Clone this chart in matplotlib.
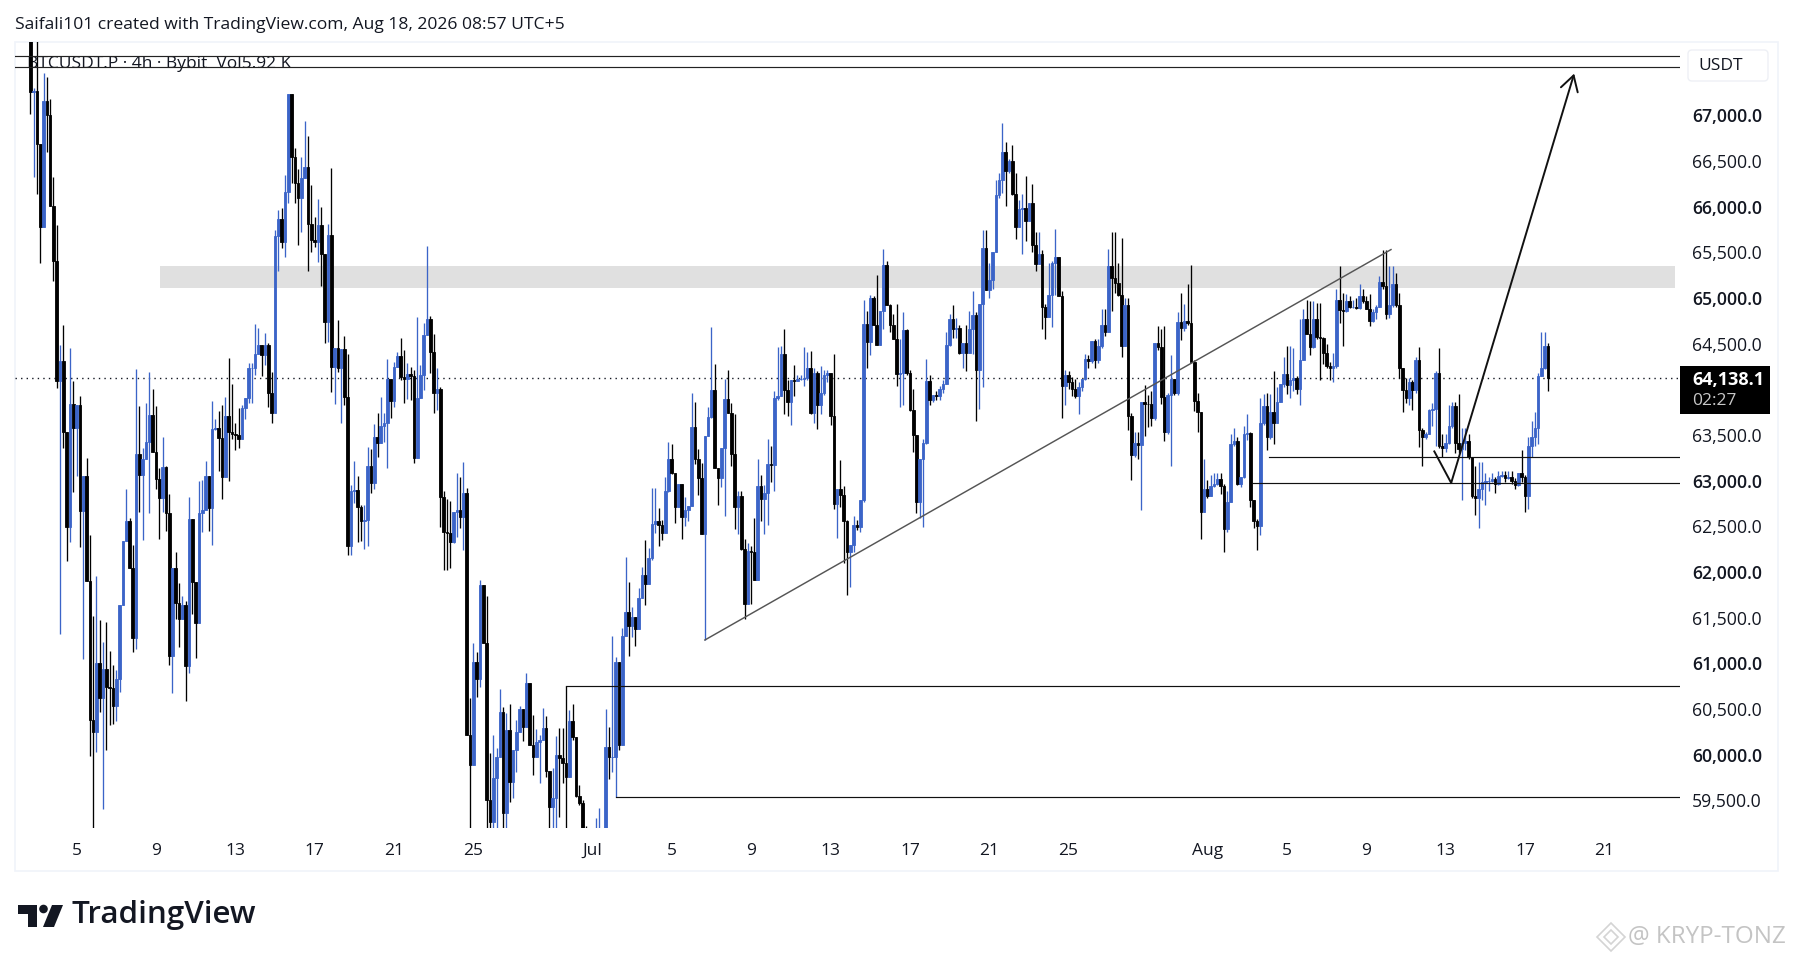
import numpy as np
import matplotlib
matplotlib.use("Agg")
import matplotlib.pyplot as plt
from matplotlib.patches import Rectangle, FancyBboxPatch, Polygon, Circle

plt.rcParams['font.family'] = ['Open Sans', 'DejaVu Sans']

# 4h candles, first bar is around Jun 1
closes = [
    67252, 67270, 66693, 65777, 67157, 67006, 66012, 65408, 64096, 64308, 63537, 62492, 63844, 63582, 63833, 62671,
    63051, 61906, 60381, 60247, 61001, 60621, 60945, 60744, 60733, 60532, 60834, 61643, 62341, 62565, 62046, 61274,
    63291, 63068, 63235, 63425, 63721, 63313, 63023, 62816, 63146, 62643, 61079, 62046, 61666, 61487, 61638, 60967,
    62587, 61895, 61448, 62649, 62677, 63051, 62699, 63565, 63582, 63470, 63040, 63705, 63537, 63515, 63498, 63459,
    63794, 63903, 64231, 64240, 64388, 64487, 64377, 64487, 63965, 63746, 65680, 65863, 65611, 66166, 67235, 66549,
    66257, 66093, 66312, 66432, 65808, 65636, 65618, 65801, 65483, 64742, 65691, 64242, 64450, 64239, 64439, 63914,
    62289, 62892, 62899, 62709, 62563, 62570, 63162, 62972, 63476, 63410, 63600, 63629, 64111, 63877, 64242, 64366,
    64133, 64111, 64169, 64147, 63253, 63903, 64158, 64596, 64768, 64414, 63957, 64001, 62826, 62443, 62432, 62326,
    62662, 62680, 62600, 62862, 60217, 59888, 61020, 60826, 61859, 61220, 59505, 59268, 59742, 59972, 60465, 59359,
    60271, 59706, 60052, 60246, 60498, 60308, 60783, 60107, 59972, 60144, 60162, 60290, 59826, 59425, 59523, 59998,
    59961, 59906, 59760, 60374, 60198, 59549, 59468, 59150, 59100, 59000, 58950, 59020, 59040, 59060, 60089, 59972,
    59975, 61020, 60107, 61301, 61560, 61414, 61505, 61374, 61713, 61969, 61866, 62151, 62527, 62564, 62516, 62425,
    62892, 63235, 63082, 62710, 62965, 62600, 62680, 62724, 63586, 63235, 63027, 62418, 63494, 63697, 63994, 63142,
    63032, 63357, 63892, 63748, 63298, 62711, 62829, 62250, 61656, 62234, 62223, 61918, 62946, 62798, 62868, 63181,
    63173, 63904, 63932, 64385, 63990, 63865, 64100, 64098, 64110, 64120, 64125, 64237, 63748, 64178, 63826, 63963,
    64159, 64178, 63709, 62751, 62907, 62848, 62555, 62223, 62301, 62516, 62489, 62790, 64714, 64518, 65000, 64706,
    64491, 64862, 65363, 64921, 64706, 64557, 64166, 64178, 64647, 64178, 63775, 63505, 62770, 63239, 63415, 64088,
    63885, 63944, 63932, 64002, 64061, 64491, 64776, 64659, 64675, 64401, 64511, 64401, 64667, 64812, 64217, 64941,
    65547, 65086, 65195, 65508, 66134, 66290, 66603, 66388, 66497, 66145, 65782, 65977, 65985, 65848, 66044, 65586,
    65371, 65488, 64902, 64792, 65038, 65390, 65449, 65019, 64033, 64159, 64080, 64010, 63932, 64022, 64119, 64335,
    64307, 64530, 64323, 64472, 64706, 64628, 65351, 65222, 65167, 65039, 64479, 64921, 63709, 63279, 63415, 63396,
    63865, 63846, 63845, 63689, 64511, 64464, 63916, 63533, 63943, 64120, 63963, 64737, 64675, 64745, 64726, 64296,
    63877, 63751, 62656, 62910, 62832, 62938, 62969, 63016, 62938, 62468, 62766, 63407, 63438, 62969, 63047, 63517,
    63524, 62793, 62558, 62500, 63634, 63822, 63478, 63751, 63634, 63861, 64064, 64174, 64045, 64103, 64123, 64006,
    64318, 64776, 64604, 64463, 64768, 64573, 64565, 64396, 64260, 64240, 64260, 64983, 64866, 64858, 64964, 64905,
    64905, 64897, 65022, 64964, 64885, 64749, 64846, 64905, 65179, 65128, 64827, 64925, 65151, 64925, 64240, 63994,
    63908, 64084, 63994, 64318, 63556, 63478, 63517, 63771, 63783, 64181, 63380, 63360, 63419, 63595, 63822, 63419,
    63352, 63419, 63438, 63262, 62832, 62813, 62910, 62989, 62996, 63000, 63016, 62961, 63055, 63067, 63027, 63047,
    63000, 62950, 63086, 63047, 62832, 63380, 63478, 63575, 64150, 64240, 64475, 64125,
]
highs = [
    68300, 67300, 67950, 66693, 67464, 67425, 67185, 66330, 65805, 64487, 64710, 63537, 64459, 64095, 63833, 63928,
    63051, 63246, 62409, 61515, 61962, 61476, 61235, 61459, 61140, 60984, 60928, 61643, 62341, 62911, 62593, 62297,
    64224, 63822, 63357, 63850, 64196, 64001, 63822, 63135, 63481, 63163, 62855, 62046, 62224, 61878, 61738, 61683,
    62827, 62587, 61895, 62995, 63012, 63219, 63051, 63872, 63682, 63760, 63833, 63917, 64347, 64056, 63637, 63794,
    63833, 63903, 64286, 64286, 64717, 64669, 64487, 64615, 64505, 64195, 65746, 65965, 65983, 66348, 67235, 67235,
    66640, 66410, 66542, 66943, 66779, 66239, 65892, 66082, 65994, 65483, 65812, 66421, 64450, 64760, 64439, 64589,
    64388, 62954, 63220, 63052, 62735, 62735, 63366, 63344, 63622, 63738, 63914, 63746, 64330, 64111, 64304, 64414,
    64560, 64432, 64293, 64250, 64213, 64797, 64268, 64724, 65571, 64804, 64607, 64231, 64030, 62892, 62797, 62782,
    62662, 63081, 63045, 63209, 62918, 60618, 61220, 61129, 61914, 61859, 61739, 60023, 60217, 60071, 60717, 60527,
    60454, 60556, 60052, 60381, 60534, 60498, 60899, 60783, 60436, 60279, 60217, 60509, 60425, 59826, 59852, 60206,
    60290, 60290, 60753, 60490, 60556, 60198, 59669, 59505, 59220, 59150, 59050, 59304, 59414, 59100, 60498, 60301,
    61301, 61074, 61020, 61385, 62170, 61896, 61622, 61505, 61823, 62060, 62352, 62261, 62918, 62918, 62699, 62570,
    63038, 63429, 63403, 63082, 62965, 62965, 62826, 62724, 63963, 63865, 63345, 63200, 63494, 63807, 64687, 64276,
    63142, 63357, 64119, 64217, 63853, 63728, 62887, 62887, 62359, 62320, 62290, 62594, 63239, 63063, 62950, 63454,
    63376, 63980, 64470, 64479, 64659, 64100, 64100, 64268, 64159, 64159, 64464, 64413, 64425, 64237, 64198, 64256,
    64217, 64217, 64178, 64393, 62907, 63228, 62946, 62575, 62301, 62614, 62575, 62790, 64980, 64863, 65038, 65019,
    65254, 64862, 65535, 65410, 64941, 64831, 64941, 64550, 64843, 64667, 64217, 64002, 63505, 63239, 63455, 64335,
    64159, 63944, 63983, 64041, 64100, 64628, 64823, 64921, 64784, 64706, 64511, 64706, 64863, 65078, 64843, 64941,
    65742, 65742, 65390, 65508, 66290, 66368, 66916, 66708, 66525, 66681, 66368, 66075, 66145, 66341, 66044, 66251,
    65723, 65723, 65527, 64941, 65390, 65410, 65754, 65449, 65078, 64217, 64205, 64139, 64119, 64080, 64119, 64393,
    64374, 64530, 64550, 64550, 64882, 64882, 65535, 65723, 65723, 65390, 65664, 65000, 65000, 63748, 63533, 63533,
    63865, 64049, 63943, 63982, 64511, 64698, 64667, 64698, 63963, 64374, 64120, 64843, 65058, 64933, 65156, 65363,
    64323, 63966, 63751, 63243, 63008, 63067, 63086, 63086, 63086, 62970, 62890, 63517, 63575, 63478, 63047, 63595,
    63732, 63536, 62793, 62578, 63908, 63947, 63966, 63947, 64201, 64025, 64064, 64357, 64475, 64475, 64455, 64143,
    64776, 64885, 64983, 64964, 64964, 64944, 64944, 64573, 64494, 64299, 64397, 65100, 65347, 65061, 65042, 65022,
    64983, 65003, 65151, 65100, 65022, 65042, 64885, 64925, 65245, 65531, 65531, 65355, 65355, 65276, 65061, 64240,
    64123, 64123, 64104, 64357, 64463, 63575, 63536, 63783, 63849, 64201, 64455, 63517, 63517, 63830, 63868, 63868,
    63947, 63575, 63575, 63517, 63262, 63165, 63204, 63204, 63086, 63047, 63086, 63047, 63106, 63106, 63106, 63106,
    63106, 63027, 63086, 63340, 63067, 63478, 63653, 63751, 64181, 64631, 64631, 64514,
]
lows = [
    67017, 66330, 66140, 65380, 65777, 66598, 66012, 65190, 64018, 61319, 63358, 62118, 62325, 62883, 63050, 62280,
    61051, 61906, 59990, 59100, 60035, 60470, 59409, 60051, 60331, 60342, 60370, 60688, 61643, 62400, 62046, 61124,
    61163, 62660, 62353, 63235, 62649, 63313, 62911, 62364, 62660, 62448, 60984, 60677, 61487, 61180, 61630, 60593,
    60900, 61543, 61057, 61448, 62440, 62677, 62448, 62297, 63555, 63107, 62800, 63040, 62995, 63459, 63341, 63358,
    63459, 63673, 63850, 63855, 64158, 64388, 64147, 64268, 63811, 63629, 63746, 65300, 65545, 65447, 66045, 66257,
    66038, 65582, 65728, 66312, 65297, 65509, 65560, 65399, 65133, 64505, 64523, 63976, 63841, 64195, 63629, 63830,
    62187, 62187, 62753, 62326, 62344, 62249, 62286, 62862, 62906, 63264, 63410, 63420, 63136, 63684, 63811, 64242,
    64100, 63848, 63892, 63884, 63191, 63253, 63903, 63994, 64596, 64176, 63746, 63775, 62498, 62023, 62023, 62041,
    62320, 62388, 62479, 62242, 60217, 59100, 59888, 60629, 60739, 61220, 59100, 59100, 59100, 59100, 59972, 59100,
    59100, 59487, 59523, 59815, 60246, 60155, 60308, 60107, 59779, 59972, 59687, 60162, 59760, 59100, 59100, 59100,
    59322, 59687, 59100, 59760, 60160, 59540, 59450, 59000, 58950, 58900, 58850, 58900, 58900, 58950, 59060, 59735,
    59815, 59535, 60052, 60107, 61300, 61082, 61286, 61191, 61374, 61713, 61640, 61866, 62133, 62425, 62286, 62352,
    62425, 62881, 63075, 62542, 62710, 62359, 62505, 62564, 62724, 63180, 62845, 62418, 61257, 63494, 63690, 63142,
    62731, 62927, 62614, 63748, 63161, 62477, 62418, 62240, 61491, 61656, 61648, 61910, 61918, 62555, 62420, 62516,
    62990, 62887, 63885, 63932, 63728, 63709, 63611, 63924, 64090, 64100, 64040, 64100, 63728, 63630, 63572, 63728,
    63943, 64080, 63611, 62692, 62379, 62712, 62105, 61753, 61832, 62223, 62458, 62438, 62770, 64237, 64374, 64706,
    64491, 64667, 64667, 64921, 64628, 64557, 64041, 63807, 63826, 64159, 63767, 63318, 62653, 62594, 62496, 63405,
    63826, 63865, 63885, 63885, 63963, 64061, 64472, 64569, 64569, 64393, 64237, 64205, 64401, 64393, 63658, 63787,
    64022, 65086, 65000, 65097, 65508, 66094, 66153, 66005, 66368, 66134, 65645, 65782, 65488, 65625, 65840, 65508,
    65293, 65371, 64667, 64557, 64792, 64687, 65038, 65019, 63689, 63826, 64002, 63924, 63904, 63728, 63982, 64100,
    64237, 64295, 64237, 64295, 64452, 64589, 64726, 64863, 65058, 65019, 64354, 64472, 63552, 63005, 63260, 63240,
    62680, 63494, 63591, 63603, 63670, 64432, 63846, 63435, 63513, 63161, 63943, 63943, 64542, 64636, 64706, 64296,
    63767, 63536, 62363, 62656, 62813, 62832, 62930, 62950, 62852, 62226, 62440, 62766, 63380, 62950, 62930, 63027,
    63450, 62715, 62480, 62246, 62402, 63614, 63340, 63458, 63399, 63634, 63861, 64025, 63947, 63908, 63986, 63947,
    63829, 64318, 64604, 64377, 64455, 64553, 64103, 64279, 64240, 64103, 64083, 64240, 64729, 64475, 64846, 64893,
    64893, 64885, 64885, 64944, 64878, 64690, 64737, 64768, 64905, 65100, 64776, 64788, 64905, 64905, 64123, 63751,
    63850, 63830, 63771, 63966, 63368, 63165, 63458, 63517, 63595, 63380, 63360, 63262, 63321, 63400, 63575, 63301,
    63301, 62793, 63340, 63243, 62813, 62625, 62488, 62793, 62734, 62891, 62989, 62871, 62950, 63040, 62989, 63020,
    62961, 62910, 62938, 62989, 62656, 62695, 63262, 63380, 63399, 64150, 64228, 63986,
]
first_open = 68100

# bar number of each time label
time_ticks = [14, 38, 62, 86, 110, 134, 170, 194, 218, 242, 266, 290, 314, 356, 380, 404, 428, 452, 476]
time_labels = ['5', '9', '13', '17', '21', '25', 'Jul', '5', '9', '13', '17', '21', '25', 'Aug', '5', '9', '13', '17', '21']
# 64,000 sits behind the price tag in the reference
price_ticks = [59500, 60000, 60500, 61000, 61500, 62000, 62500, 63000, 63500, 64500, 65000, 65500, 66000, 66500, 67000]

last_price = 64125
zone = [65112, 65355]
top_lines = [67651, 67526]
trend_x = [204, 411.5]
trend_y = [61257, 65532]
level_x = [162, 177, 374.6, 369.5]
level_y = [60753, 59535, 63256, 62977]
arrow_x = [424.6, 429.7, 466.9]
arrow_y = [63322, 62977, 67459]

up_color = '#3b64c8'
down_color = '#000000'
text_color = '#131722'

W, H = 1793, 961
fig = plt.figure(figsize=(W / 100, H / 100), dpi=100, facecolor='white')

# full figure layer in pixels, for the frame, logo and the boxes
bg = fig.add_axes([0, 0, 1, 1])
bg.set_xlim(0, W)
bg.set_ylim(H, 0)
bg.axis('off')
bg.add_patch(Rectangle((15, 42), 1763, 829, fill=False, ec='#f0f3fa', lw=1.2))

left, right, top, bottom = 15, 1680, 42, 828
ax = fig.add_axes([left / W, 1 - bottom / H, (right - left) / W, (bottom - top) / H])
ax.patch.set_alpha(0)
for s in ax.spines.values():
    s.set_visible(False)

x = np.arange(len(closes))
closes = np.array(closes, dtype=float)
opens = np.concatenate([[first_open], closes[:-1]])
highs = np.maximum(np.array(highs, dtype=float), np.maximum(opens, closes))
lows = np.minimum(np.array(lows, dtype=float), np.minimum(opens, closes))
colors = np.where(closes >= opens, up_color, down_color)

ax.axhspan(zone[0], zone[1], xmin=(160 - left) / (right - left), xmax=(1675 - left) / (right - left),
           color='#e0e0e0', lw=0, zorder=1)
ax.text(-1, 67560, 'BTCUSDT.P · 4h · Bybit  Vol5.92 K', fontsize=12.5, color=text_color, va='center', zorder=2)
ax.axhline(last_price, color='#131722', lw=1, ls=(0, (1, 3)), zorder=2)

ax.vlines(x, lows, highs, colors=colors, lw=0.95, zorder=3)
ax.bar(x, np.abs(closes - opens), bottom=np.minimum(opens, closes), width=0.8, color=colors,
       edgecolor=colors, lw=0.6, zorder=4)

# drawings on top of the candles
for p in top_lines:
    ax.axhline(p, color='#222222', lw=0.85, zorder=5)
ax.plot(trend_x, trend_y, color='#555555', lw=1.05, zorder=5)
for px, py in zip(level_x, level_y):
    ax.plot([px, 498.9], [py, py], color='#111111', lw=0.85, zorder=5)
ax.plot(arrow_x[:2], arrow_y[:2], color='#111111', lw=1.4, zorder=5)
ax.annotate('', xy=(arrow_x[2], arrow_y[2]), xytext=(arrow_x[1], arrow_y[1]), zorder=5,
            arrowprops=dict(arrowstyle='->,head_length=0.6,head_width=0.35', color='#111111', lw=1.4,
                            shrinkA=0, shrinkB=0, mutation_scale=18))

ax.set_xlim(-4.63, 498.9)
ax.set_ylim(67000 - (bottom - 115.5) / 0.09133, 67000 + (115.5 - top) / 0.09133)

ax.set_xticks(time_ticks)
ax.set_xticklabels(time_labels, fontsize=12.5, color=text_color)
ax.tick_params(axis='x', length=0, pad=11)

ax.yaxis.tick_right()
ax.set_yticks(price_ticks)
ax.set_yticklabels([f'{p:,.1f}' for p in price_ticks], fontsize=12.7, color=text_color)
ax.tick_params(axis='y', length=0, pad=8.5)
for p, lab in zip(price_ticks, ax.get_yticklabels()):
    if p % 1000 == 0:
        lab.set_fontweight('semibold')

bg.text(15, 25, 'Saifali101 created with TradingView.com, Aug 18, 2026 08:57 UTC+5',
        fontsize=12.6, color=text_color, va='center')

bg.add_patch(FancyBboxPatch((1688, 50), 80, 31, boxstyle='round,pad=0,rounding_size=4', fc='white', ec='#eef0f5', lw=1))
bg.text(1698, 66, 'USDT', fontsize=12.5, color=text_color, va='center')

bg.add_patch(Rectangle((1680, 366), 90, 48, fc='black', ec='none', zorder=6))
bg.text(1692, 380, '64,138.1', fontsize=13, color='white', fontweight='bold', va='center', zorder=7)
bg.text(1692, 401, '02:27', fontsize=12.5, color='#c8c8c8', va='center', zorder=7)

# TradingView logo
bg.add_patch(Polygon([(18, 905), (37, 905), (37, 927), (28, 927), (28, 914), (18, 914)], fc='#131722', ec='none'))
bg.add_patch(Circle((43.5, 909), 4.3, fc='#131722', ec='none'))
bg.add_patch(Polygon([(52, 905), (63, 905), (54, 927), (43, 927)], fc='#131722', ec='none'))
bg.text(72, 915, 'TradingView', fontsize=22.6, color='#131722', fontweight='semibold', va='center')

# watermark
for cx, cy, r in [(1611, 937, 14), (1611, 937, 7)]:
    bg.add_patch(Polygon([(cx - r, cy), (cx, cy - r), (cx + r, cy), (cx, cy + r)], fill=False, ec='#d4d4d4', lw=1.2))
bg.text(1628, 937, '@ KRYP-TONZ', fontsize=17.4, color='#c4c4c4', va='center')

fig.savefig('out.png', dpi=100, facecolor='white')
